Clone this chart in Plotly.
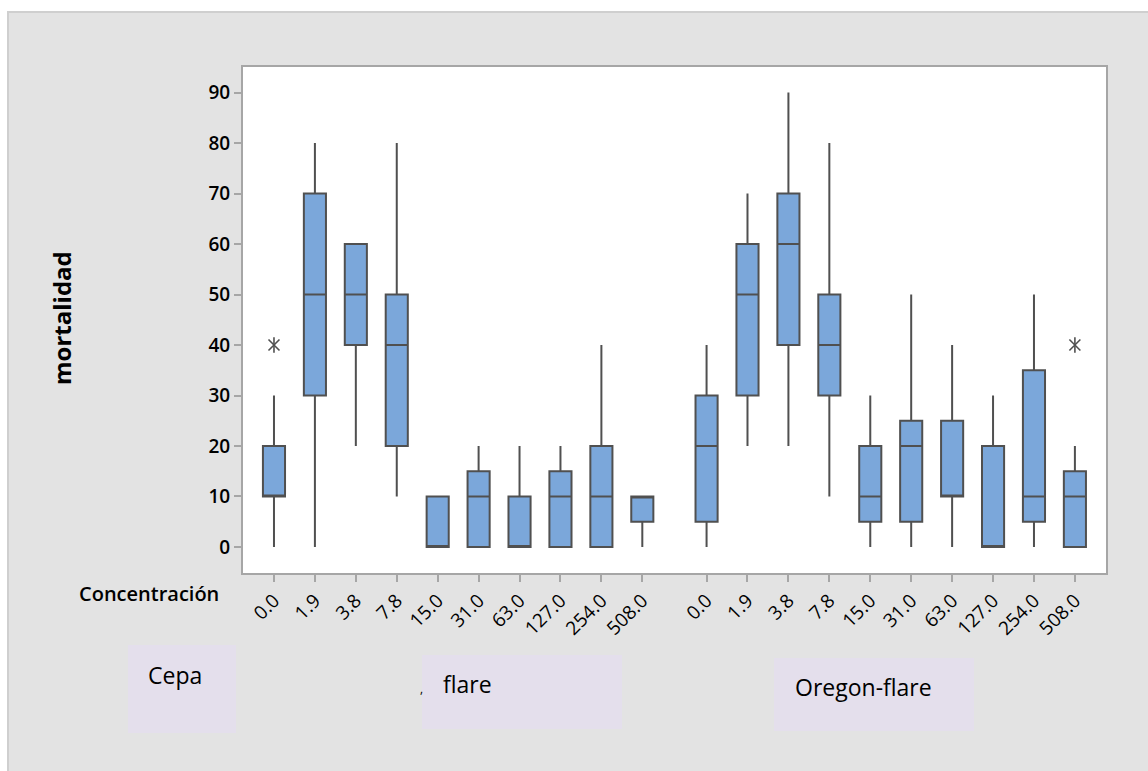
import plotly.graph_objects as go

# ---- data -------------------------------------------------------------
concentrations = ["0.0", "1.9", "3.8", "7.8", "15.0", "31.0", "63.0", "127.0", "254.0", "508.0"]
groups = ["flare", "Oregon-flare"]

# group 1 (flare)
g1_low = [0, 0, 20, 10, 0, 0, 0, 0, 0, 0]
g1_q1 = [10, 30, 40, 20, 0, 0, 0, 0, 0, 5]
g1_med = [10, 50, 50, 40, 0, 10, 0, 10, 10, 10]
g1_q3 = [20, 70, 60, 50, 10, 15, 10, 15, 20, 10]
g1_high = [30, 80, 60, 80, 10, 20, 20, 20, 40, 10]

# group 2 (Oregon-flare)
g2_low = [0, 20, 20, 10, 0, 0, 0, 0, 0, 0]
g2_q1 = [5, 30, 40, 30, 5, 5, 10, 0, 5, 0]
g2_med = [20, 50, 60, 40, 10, 20, 10, 0, 10, 10]
g2_q3 = [30, 60, 70, 50, 20, 25, 25, 20, 35, 15]
g2_high = [40, 70, 90, 80, 30, 50, 40, 30, 50, 20]

# outliers: (group index, concentration index, value)
outlier_group = [0, 1]
outlier_conc = [0, 9]
outlier_value = [40, 40]

y_ticks = [0, 10, 20, 30, 40, 50, 60, 70, 80, 90]

# ---- layout constants -------------------------------------------------
W, H = 1148, 771
L, R, T, B = 243, 42, 67, 198
PW, PH = W - L - R, H - T - B
GROUP_OFFSET = 10.57
BOX_FILL = "#7BA7DA"
LINE = "#505050"
AXIS = "#A6A6A6"
FONT = "Open Sans"


def px_x(x):
    return (x - L) / PW


def px_y(y):
    return (H - B - y) / PH


n = len(concentrations)
pos1 = [i for i in range(n)]
pos2 = [i + GROUP_OFFSET for i in range(n)]

fig = go.Figure()
for pos, lo, q1, md, q3, hi in [
    (pos1, g1_low, g1_q1, g1_med, g1_q3, g1_high),
    (pos2, g2_low, g2_q1, g2_med, g2_q3, g2_high),
]:
    fig.add_trace(go.Box(
        x=pos, q1=q1, median=md, q3=q3, lowerfence=lo, upperfence=hi,
        width=0.54, fillcolor=BOX_FILL,
        line=dict(color=LINE, width=2),
        whiskerwidth=0, boxpoints=False, hoverinfo="skip",
        showlegend=False,
    ))

ox = [c + g * GROUP_OFFSET for g, c in zip(outlier_group, outlier_conc)]
for sym in ["x-thin-open", "line-ns-open"]:
    fig.add_trace(go.Scatter(
        x=ox, y=outlier_value, mode="markers",
        marker=dict(symbol=sym, size=11, line=dict(color=LINE, width=1.6), color=LINE),
        showlegend=False, hoverinfo="skip",
    ))

fig.update_layout(
    width=W, height=H,
    margin=dict(l=L, r=R, t=T, b=B, pad=0),
    paper_bgcolor="white", plot_bgcolor="white",
    font=dict(family=FONT, color="black"),
    xaxis=dict(
        range=[-0.757, 20.33], tickmode="array",
        tickvals=pos1 + pos2, ticktext=concentrations + concentrations,
        tickangle=-45, ticks="outside", ticklen=7, tickwidth=2, tickcolor=AXIS,
        showline=True, linecolor=AXIS, linewidth=2, mirror=True,
        showgrid=False, zeroline=False,
        tickfont=dict(family=FONT, size=19, color="black"),
    ),
    yaxis=dict(
        range=[-5.15, 95.05], tickmode="array", tickvals=y_ticks,
        ticks="outside", ticklen=7, tickwidth=2, tickcolor=AXIS,
        showline=True, linecolor=AXIS, linewidth=2, mirror=True,
        showgrid=False, zeroline=False,
        tickfont=dict(family=FONT, size=19, color="black", weight=600),
    ),
)

shapes = [
    # gray background panel
    dict(type="rect", xref="paper", yref="paper", layer="below",
         x0=px_x(8), x1=px_x(W + 5), y0=px_y(H + 5), y1=px_y(12),
         fillcolor="#E3E3E3", line=dict(color="#CFCFCF", width=2)),
    # white plotting area
    dict(type="rect", xref="paper", yref="paper", layer="below",
         x0=0, x1=1, y0=0, y1=1, fillcolor="white", line=dict(width=0)),
    # label boxes
    dict(type="rect", xref="paper", yref="paper", layer="below",
         x0=px_x(128), x1=px_x(236), y0=px_y(733), y1=px_y(645),
         fillcolor="#E4DFEC", line=dict(width=0)),
    dict(type="rect", xref="paper", yref="paper", layer="below",
         x0=px_x(422), x1=px_x(622), y0=px_y(729), y1=px_y(655),
         fillcolor="#E4DFEC", line=dict(width=0)),
    dict(type="rect", xref="paper", yref="paper", layer="below",
         x0=px_x(774), x1=px_x(974), y0=px_y(731), y1=px_y(658),
         fillcolor="#E4DFEC", line=dict(width=0)),
]
fig.update_layout(shapes=shapes)

ann = [
    dict(text="mortalidad", x=px_x(61), y=px_y(318), textangle=-90,
         font=dict(size=24, weight="bold")),
    dict(text="Concentración", x=px_x(221), y=px_y(593), xanchor="right",
         font=dict(size=20, weight=600)),
    dict(text="Cepa", x=px_x(146), y=px_y(675), xanchor="left",
         font=dict(size=23)),
    dict(text=groups[0], x=px_x(441), y=px_y(684), xanchor="left",
         font=dict(size=23)),
    dict(text=groups[1], x=px_x(793), y=px_y(687), xanchor="left",
         font=dict(size=23)),
    dict(text=",", x=px_x(421), y=px_y(688), xanchor="center",
         font=dict(size=12)),
]
for a in ann:
    a.setdefault("xanchor", "center")
    a.update(xref="paper", yref="paper", yanchor="middle", showarrow=False)
    a["font"].setdefault("family", FONT)
    a["font"].setdefault("color", "black")
fig.update_layout(annotations=ann)

fig.write_html("out.html")
